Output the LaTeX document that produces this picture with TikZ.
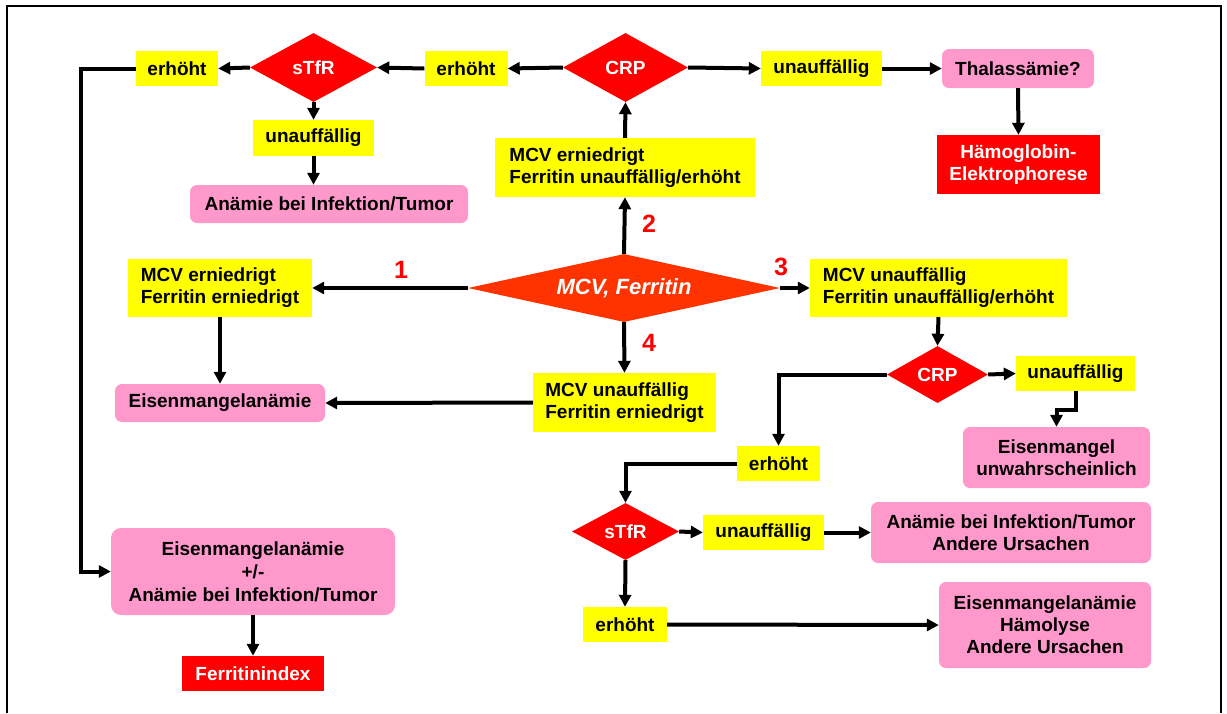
\documentclass[tikz,border=0pt]{standalone}
\usepackage{fontspec}
\setmainfont{Liberation Sans}
\usepackage{tikz}
\usetikzlibrary{arrows.meta, positioning, shapes, calc}

\definecolor{gelb}{RGB}{255,255,0}
\definecolor{rosa}{RGB}{255,153,204}
\definecolor{rot}{RGB}{255,0,0}
\definecolor{orangerot}{RGB}{255,51,0}

\begin{document}
\begin{tikzpicture}[x=1pt, y=-1pt, >={Triangle[length=12pt, width=12pt]}]
            \tikzset{
              txt/.style={font={\bfseries\fontsize{19}{22}\selectfont}},
              ybox/.style={txt, fill=gelb, inner sep=0pt, align=center},
              lbox/.style={txt, fill=gelb, inner sep=0pt, align=left},
              pbox/.style={txt, fill=rosa, rounded corners=7pt, inner sep=0pt, align=center},
              rbox/.style={txt, fill=rot, text=white, inner sep=0pt, align=center},
              raute/.style={txt, diamond, aspect=1.8, fill=rot, text=white, inner sep=0pt},
              num/.style={text=rot, inner sep=0pt, font={\bfseries\fontsize{25}{25}\selectfont}},
              arr/.style={->, line width=4pt}
            }
            \useasboundingbox (0,0) rectangle (1227,713);
            \draw[line width=2pt] (7,713) -- (7,6) -- (1221,6) -- (1221,713);

            % Ausgangspunkt
            \node[raute, fill=orangerot, aspect=4.6, minimum width=312pt, minimum height=68pt,
                  font={\bfseries\itshape\fontsize{22}{22}\selectfont}] (mcv) at (624,288) {MCV, Ferritin};

            % Fall 2: oben
            \node[lbox, minimum width=260pt, minimum height=59pt] (caseB) at (625,167.5) {MCV erniedrigt\\Ferritin unauffällig/erhöht};
            \node[raute, minimum width=125pt, minimum height=69pt] (crpA) at (625.5,67.5) {CRP};
            \node[ybox, minimum width=83pt, minimum height=35pt] (erhM) at (466,68.5) {erhöht};
            \node[raute, minimum width=127pt, minimum height=69pt] (stfrA) at (313.5,67.5) {sTfR};
            \node[ybox, minimum width=82pt, minimum height=35pt] (erhA) at (177,68.5) {erhöht};
            \node[ybox, minimum width=121pt, minimum height=36pt] (unS) at (313.5,138) {unauffällig};
            \node[pbox, minimum width=278pt, minimum height=38pt] (anaA) at (329,204) {Anämie bei Infektion/Tumor};
            \node[ybox, minimum width=121pt, minimum height=35pt] (unA) at (821.5,68.5) {unauffällig};
            \node[pbox, minimum width=152pt, minimum height=39pt] (thal) at (1018,68.5) {Thalassämie?};
            \node[rbox, minimum width=163pt, minimum height=59pt] (hb) at (1018.5,164.5) {Hämoglobin-\\Elektrophorese};

            % Fall 1 und 4: links
            \node[lbox, minimum width=184pt, minimum height=58pt] (caseA) at (220,288) {MCV erniedrigt\\Ferritin erniedrigt};
            \node[pbox, minimum width=210pt, minimum height=38pt] (eisen) at (220,403) {Eisenmangelanämie};
            \node[lbox, minimum width=183pt, minimum height=59pt] (caseD) at (624.5,402.5) {MCV unauffällig\\Ferritin erniedrigt};
            \node[pbox, minimum width=284pt, minimum height=87pt, rounded corners=10pt,
                  font={\bfseries\fontsize{19}{23}\selectfont}] (eisKombi) at (253,571.5) {Eisenmangelanämie\\+/-\\Anämie bei Infektion/Tumor};
            \node[rbox, minimum width=142pt, minimum height=35pt] (fidx) at (253,673.5) {Ferritinindex};
            \coordinate (knick) at (81,300);

            % Fall 3: rechts
            \node[lbox, minimum width=257pt, minimum height=58pt] (caseC) at (938.5,288) {MCV unauffällig\\Ferritin unauffällig/erhöht};
            \node[raute, minimum width=101pt, minimum height=57pt] (crpB) at (937.5,374.5) {CRP};
            \node[ybox, minimum width=119pt, minimum height=35pt] (unB) at (1075.5,373.5) {unauffällig};
            \node[pbox, minimum width=187pt, minimum height=61pt] (eiuw) at (1056.5,457.5) {Eisenmangel\\unwahrscheinlich};
            \node[ybox, minimum width=83pt, minimum height=35pt] (erhB) at (778.5,463.5) {erhöht};
            \node[raute, minimum width=107pt, minimum height=57pt] (stfrB) at (625.5,531.5) {sTfR};
            \node[ybox, minimum width=121pt, minimum height=35pt] (unC) at (763.5,532.5) {unauffällig};
            \node[pbox, minimum width=280pt, minimum height=61pt] (anaB) at (1011,532.5) {Anämie bei Infektion/Tumor\\Andere Ursachen};
            \node[ybox, minimum width=84pt, minimum height=35pt] (erhC) at (625,624.5) {erhöht};
            \node[pbox, minimum width=212pt, minimum height=86pt] (eha) at (1045,625) {Eisenmangelanämie\\Hämolyse\\Andere Ursachen};

            % Nummern
            \node[num] (n1) at (401,270) {1};
            \node[num] (n2) at (649,224) {2};
            \node[num] (n3) at (781,267) {3};
            \node[num] (n4) at (649,343) {4};

            % Pfeile
            \draw[arr] (mcv.west) -- (caseA.east);
            \draw[arr] (mcv.north) -- (caseB.south);
            \draw[arr] (mcv.east) -- (caseC.west);
            \draw[arr] (mcv.south) -- (caseD.north);

            \draw[arr] (caseB.north) -- (crpA.south);
            \draw[arr] (crpA.west) -- (erhM.east);
            \draw[arr] (erhM.west) -- (stfrA.east);
            \draw[arr] (stfrA.west) -- (erhA.east);
            \draw[arr] (erhA.west) -| (knick) |- (eisKombi.west);
            \draw[arr] (stfrA.south) -- (unS.north);
            \draw[arr] (unS.south) -- (unS.south |- anaA.north);
            \draw[arr] (crpA.east) -- (unA.west);
            \draw[arr] (unA.east) -- (thal.west);
            \draw[arr] (thal.south) -- (hb.north);

            \draw[arr] (caseA.south) -- (eisen.north);
            \draw[arr] (caseD.west) -- (eisen.east);
            \draw[arr] (eisKombi.south) -- (fidx.north);

            \draw[arr] (caseC.south) -- (crpB.north);
            \draw[arr] (crpB.east) -- (unB.west);
            \draw[arr] (unB.south) -- ++(0,19) -| (eiuw.north);
            \draw[arr] (crpB.west) -| (erhB.north);
            \draw[arr] (erhB.west) -| (stfrB.north);
            \draw[arr] (stfrB.east) -- (unC.west);
            \draw[arr] (unC.east) -- (anaB.west);
            \draw[arr] (stfrB.south) -- (erhC.north);
            \draw[arr] (erhC.east) -- (eha.west);
        \end{tikzpicture}
\end{document}
